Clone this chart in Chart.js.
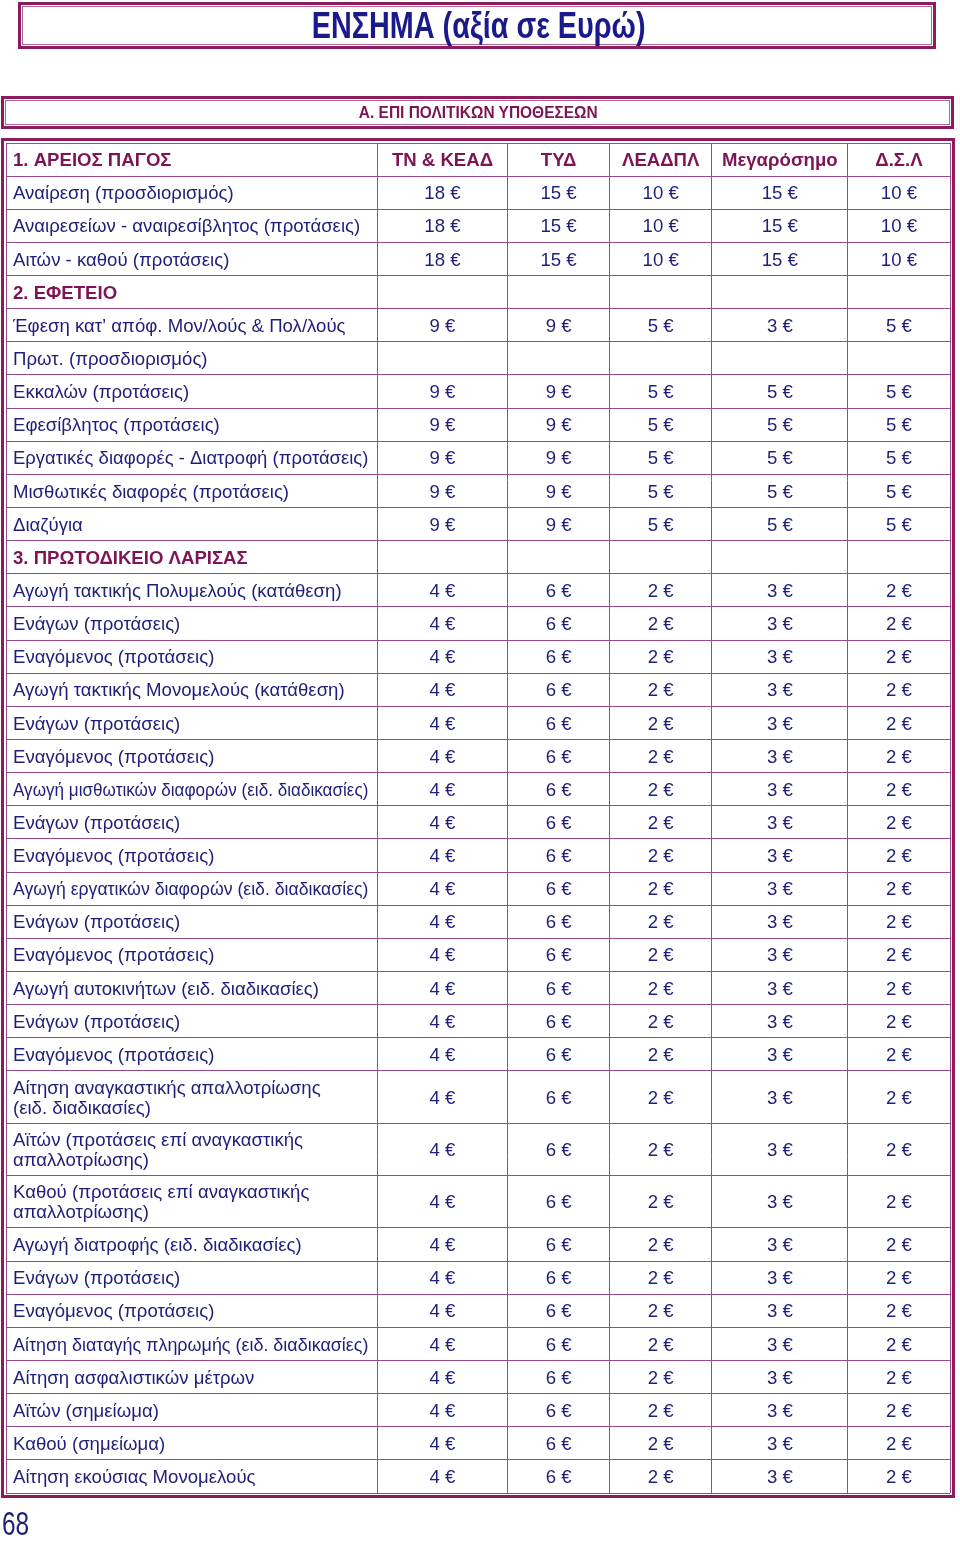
<!DOCTYPE html>
<html><head><meta charset="utf-8">
<script src="https://cdn.jsdelivr.net/npm/chart.js@4.4.1/dist/chart.umd.min.js"></script>
<style>
html,body{margin:0;padding:0;background:#fff}
body{width:960px;height:1541px;position:relative;overflow:hidden;font-family:"Liberation Sans",Arial,sans-serif}
.box{position:absolute;box-sizing:border-box;border:3px solid #8c1b5c;padding:1px}
.box .in{box-sizing:border-box;width:100%;height:100%;border:1px solid #b0649a;display:flex;align-items:center;justify-content:center}
.box .in span{display:inline-block;white-space:nowrap}
#title{left:18px;top:2px;width:918px;height:47px}
#title .in span{font-weight:bold;font-size:36px;color:#1a1a8c;transform:scaleX(0.8);margin-left:4px}
#sect{left:1px;top:96px;width:953px;height:33px}
#sect .in span{font-weight:bold;font-size:17px;color:#7e1454;transform:scaleX(0.91);margin-left:2px}
#page{position:absolute;left:2px;top:1507px;font-size:33px;line-height:33px;color:#1f1f7a;transform:scaleX(0.74);transform-origin:left top}
#wrap{position:absolute;left:0;top:0;width:960px;height:1541px}
</style></head>
<body>
<div id="wrap"><canvas id="c" width="960" height="1541"></canvas></div>
<div id="title" class="box"><div class="in"><span>ΕΝΣΗΜΑ (αξία σε Ευρώ)</span></div></div>
<div id="sect" class="box"><div class="in"><span>Α. ΕΠΙ ΠΟΛΙΤΙΚΩΝ ΥΠΟΘΕΣΕΩΝ</span></div></div>
<div id="page">68</div>
<script>
// ---------- DATA ----------
const columnHeaders = ["1. ΑΡΕΙΟΣ ΠΑΓΟΣ", "ΤΝ & ΚΕΑΔ", "ΤΥΔ", "ΛΕΑΔΠΛ", "Μεγαρόσημο", "Δ.Σ.Λ"];

const rowLabels = [
  "Αναίρεση (προσδιορισμός)",
  "Αναιρεσείων - αναιρεσίβλητος (προτάσεις)",
  "Αιτών - καθού (προτάσεις)",
  "2. ΕΦΕΤΕΙΟ",
  "Έφεση κατ’ απόφ. Μον/λούς & Πολ/λούς",
  "Πρωτ. (προσδιορισμός)",
  "Εκκαλών (προτάσεις)",
  "Εφεσίβλητος (προτάσεις)",
  "Εργατικές διαφορές - Διατροφή (προτάσεις)",
  "Μισθωτικές διαφορές (προτάσεις)",
  "Διαζύγια",
  "3. ΠΡΩΤΟΔΙΚΕΙΟ ΛΑΡΙΣΑΣ",
  "Αγωγή τακτικής Πολυμελούς (κατάθεση)",
  "Ενάγων (προτάσεις)",
  "Εναγόμενος (προτάσεις)",
  "Αγωγή τακτικής Μονομελούς (κατάθεση)",
  "Ενάγων (προτάσεις)",
  "Εναγόμενος (προτάσεις)",
  "Αγωγή μισθωτικών διαφορών (ειδ. διαδικασίες)",
  "Ενάγων (προτάσεις)",
  "Εναγόμενος (προτάσεις)",
  "Αγωγή εργατικών διαφορών (ειδ. διαδικασίες)",
  "Ενάγων (προτάσεις)",
  "Εναγόμενος (προτάσεις)",
  "Αγωγή αυτοκινήτων (ειδ. διαδικασίες)",
  "Ενάγων (προτάσεις)",
  "Εναγόμενος (προτάσεις)",
  "Αίτηση αναγκαστικής απαλλοτρίωσης\n(ειδ. διαδικασίες)",
  "Αϊτών (προτάσεις επί αναγκαστικής\nαπαλλοτρίωσης)",
  "Καθού (προτάσεις επί αναγκαστικής\nαπαλλοτρίωσης)",
  "Αγωγή διατροφής (ειδ. διαδικασίες)",
  "Ενάγων (προτάσεις)",
  "Εναγόμενος (προτάσεις)",
  "Αίτηση διαταγής πληρωμής (ειδ. διαδικασίες)",
  "Αίτηση ασφαλιστικών μέτρων",
  "Αϊτών (σημείωμα)",
  "Καθού (σημείωμα)",
  "Αίτηση εκούσιας Μονομελούς"
];

const sectionRows = ["2. ΕΦΕΤΕΙΟ", "3. ΠΡΩΤΟΔΙΚΕΙΟ ΛΑΡΙΣΑΣ"];

const tnKead     = [18,18,18,null,9,null,9,9,9,9,9,null,4,4,4,4,4,4,4,4,4,4,4,4,4,4,4,4,4,4,4,4,4,4,4,4,4,4];
const tyd        = [15,15,15,null,9,null,9,9,9,9,9,null,6,6,6,6,6,6,6,6,6,6,6,6,6,6,6,6,6,6,6,6,6,6,6,6,6,6];
const leadpl     = [10,10,10,null,5,null,5,5,5,5,5,null,2,2,2,2,2,2,2,2,2,2,2,2,2,2,2,2,2,2,2,2,2,2,2,2,2,2];
const megarosimo = [15,15,15,null,3,null,5,5,5,5,5,null,3,3,3,3,3,3,3,3,3,3,3,3,3,3,3,3,3,3,3,3,3,3,3,3,3,3];
const dsl        = [10,10,10,null,5,null,5,5,5,5,5,null,2,2,2,2,2,2,2,2,2,2,2,2,2,2,2,2,2,2,2,2,2,2,2,2,2,2];
const currency = "€";

// ---------- LAYOUT (not data) ----------
const colWidths = [371, 130, 102, 102, 136, 102];
const TEXT = "#1f1f7a", HEAD = "#7e1454", GRID = "#9a4a88", BORDER = "#8c1b5c";

const seriesCols = [tnKead, tyd, leadpl, megarosimo, dsl];
const allLabels = [columnHeaders[0]].concat(rowLabels);
const rowUnits = allLabels.map(l => l.includes("\n") ? 1.58 : 1);
const rowEdges = [0];
rowUnits.forEach(u => rowEdges.push(rowEdges[rowEdges.length - 1] + u));
const rowCenters = rowUnits.map((u, i) => rowEdges[i] + u / 2);
const colEdges = [0];
colWidths.forEach(w => colEdges.push(colEdges[colEdges.length - 1] + w));
const colCenters = colWidths.map((w, i) => colEdges[i] + w / 2);

const datasets = [];
datasets.push({
  label: columnHeaders[0],
  data: allLabels.map((t, i) => ({x: colEdges[0], y: rowCenters[i], text: t,
    kind: i === 0 || sectionRows.includes(t) ? "head" : "item"})),
  align: "left"
});
seriesCols.forEach((arr, j) => {
  const d = [{x: colCenters[j + 1], y: rowCenters[0], text: columnHeaders[j + 1], kind: "head"}];
  arr.forEach((v, i) => {
    if (v !== null) d.push({x: colCenters[j + 1], y: rowCenters[i + 1], text: v + " " + currency, kind: "item"});
  });
  datasets.push({label: columnHeaders[j + 1], data: d, align: "center"});
});
datasets.forEach(ds => { ds.pointRadius = 0; ds.pointHoverRadius = 0; ds.showLine = false; });

const cellText = {
  id: "cellText",
  afterDatasetsDraw(chart) {
    const ctx = chart.ctx, area = chart.chartArea;
    const xs = chart.scales.x;
    ctx.save();
    ctx.textBaseline = "middle";
    chart.data.datasets.forEach((ds, di) => {
      const meta = chart.getDatasetMeta(di);
      meta.data.forEach((pt, i) => {
        const item = ds.data[i];
        ctx.fillStyle = item.kind === "head" ? HEAD : TEXT;
        ctx.font = item.kind === "head" ? "bold 18.6px 'Liberation Sans', Arial, sans-serif"
                                        : "18.6px 'Liberation Sans', Arial, sans-serif";
        const lines = item.text.split("\n");
        const lh = 20;
        lines.forEach((ln, k) => {
          const y = pt.y + 1.5 + (k - (lines.length - 1) / 2) * lh;
          if (ds.align === "left") {
            ctx.textAlign = "left";
            const maxW = xs.getPixelForValue(colEdges[1]) - pt.x - 16;
            ctx.fillText(ln, pt.x + 7, y, maxW);
          } else {
            ctx.textAlign = "center";
            ctx.fillText(ln, pt.x, y);
          }
        });
      });
    });
    ctx.strokeStyle = BORDER;
    ctx.lineWidth = 3;
    ctx.strokeRect(area.left - 3.5, area.top - 3.5, area.right - area.left + 7, area.bottom - area.top + 7);
    ctx.restore();
  }
};

new Chart(document.getElementById("c"), {
  type: "scatter",
  data: {datasets},
  options: {
    responsive: false,
    animation: false,
    devicePixelRatio: 1,
    layout: {padding: {left: 6, right: 10, top: 143, bottom: 48}},
    plugins: {legend: {display: false}, tooltip: {enabled: false}, title: {display: false}},
    events: [],
    scales: {
      x: {
        type: "linear", min: 0, max: colEdges[colEdges.length - 1],
        ticks: {display: false}, border: {display: false},
        grid: {color: GRID, lineWidth: 1, drawTicks: false},
        afterBuildTicks: s => { s.ticks = colEdges.map(v => ({value: v})); }
      },
      y: {
        type: "linear", reverse: true, min: 0, max: rowEdges[rowEdges.length - 1],
        ticks: {display: false}, border: {display: false},
        grid: {color: GRID, lineWidth: 1, drawTicks: false},
        afterBuildTicks: s => { s.ticks = rowEdges.map(v => ({value: v})); }
      }
    }
  },
  plugins: [cellText]
});
</script>
</body></html>
